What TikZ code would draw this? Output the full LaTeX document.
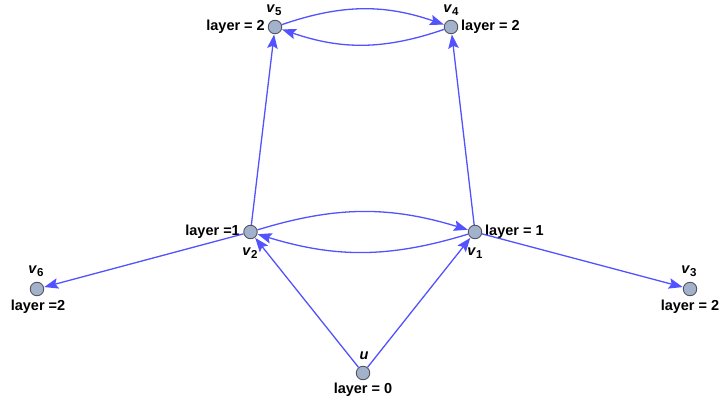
\documentclass[tikz,border=0pt]{standalone}
\usepackage{fontspec}
\setmainfont{Liberation Sans}
\usetikzlibrary{arrows.meta}
\definecolor{vfill}{rgb}{0.64,0.70,0.80}
\definecolor{vdraw}{rgb}{0.33,0.33,0.36}
\definecolor{ecol}{rgb}{0.32,0.32,1}
\tikzset{
  vert/.style={circle,fill=vfill,draw=vdraw,line width=0.9pt,minimum size=13.5pt,inner sep=0pt},
  lab/.style={font=\fontsize{14.5}{16}\selectfont\bfseries,inner sep=0pt},
  vname/.style={font=\fontsize{14.5}{16}\selectfont\bfseries,inner sep=0pt},
  edge/.style={draw=ecol,line width=1.3pt,-{Stealth[length=14pt,width=10.5pt,inset=2.5pt]},shorten >=0.3pt}
}
\newcommand{\vn}[1]{\textit{v}\raisebox{-3.5pt}{\fontsize{11.5}{12}\selectfont #1}}
\begin{document}
\begin{tikzpicture}[x=1pt,y=-1pt]
\useasboundingbox (0,0) rectangle (720,406);
\node[vert] (u) at (363,373) {};
\node[vert] (v1) at (475,232) {};
\node[vert] (v2) at (250.5,232) {};
\node[vert] (v3) at (690,289) {};
\node[vert] (v6) at (37,289) {};
\node[vert] (v5) at (275,27) {};
\node[vert] (v4) at (451,27) {};
% labels
\node[vname] (lu) at (364,356) {\textit{u}};
\node[lab] (lu2) at (363,390) {layer = 0};
\node[vname] (l1) at (475,253) {\vn{1}};
\node[lab,anchor=west] (l1b) at (485,232) {layer = 1};
\node[vname] (l2) at (250,253) {\vn{2}};
\node[lab,anchor=east] (l2b) at (240,232) {layer =1};
\node[vname] (l3) at (689,271) {\vn{3}};
\node[lab] (l3b) at (690,307) {layer = 2};
\node[vname] (l6) at (36,271) {\vn{6}};
\node[lab] (l6b) at (38,307) {layer =2};
\node[vname] (l5) at (274,10) {\vn{5}};
\node[lab,anchor=east] (l5b) at (265,27) {layer = 2};
\node[vname] (l4) at (451,10) {\vn{4}};
\node[lab,anchor=west] (l4b) at (461,27) {layer = 2};
% edges
\draw[edge] (u) -- (v2);
\draw[edge] (u) -- (v1);
\draw[edge] (v2) -- (v6);
\draw[edge] (v1) -- (v3);
\draw[edge] (v2) -- (v5);
\draw[edge] (v1) -- (v4);
\draw[edge] (v2) to[bend left=17] (v1);
\draw[edge] (v1) to[bend left=17] (v2);
\draw[edge] (v5) to[bend left=19] (v4);
\draw[edge] (v4) to[bend left=19] (v5);
\end{tikzpicture}
\end{document}
